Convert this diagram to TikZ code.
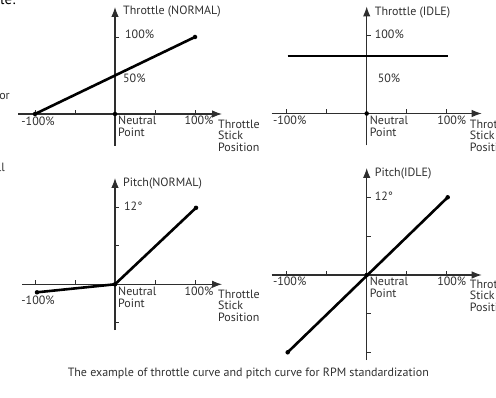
\documentclass[tikz,border=0pt]{standalone}
\usepackage{fontspec}
\setmainfont{PT Sans}
\usepackage{xcolor}
\usetikzlibrary{arrows.meta,positioning}
\definecolor{axisgray}{HTML}{2E2E2E}
\definecolor{labelgray}{HTML}{303030}

\begin{document}
\begin{tikzpicture}[x=1pt,y=1pt,font=\fontsize{12}{13}\selectfont]
        \tikzstyle{axis} = [draw=axisgray, line width=1.1pt, -{Latex[length=10pt,width=7.5pt]}]
        \tikzstyle{tick} = [draw=axisgray, line width=0.9pt]
        \tikzstyle{curve} = [draw=black, line width=2.6pt]
        \tikzstyle{dot} = [circle, fill=black, inner sep=0pt, minimum size=4.5pt]
        \tikzstyle{lbl} = [text=labelgray, inner sep=0pt, anchor=base west]
        \tikzstyle{mid} = [text=labelgray, inner sep=0pt, anchor=base]
        \useasboundingbox (0,0) rectangle (496,397);

        \node[lbl, text=black, font=\fontsize{15}{15}\selectfont] (frag1) at (0,392) {le:};
        \node[mid, anchor=base east] (frag2) at (10,297) {or};
        \node[mid, anchor=base east] (frag3) at (5,225) {ll};

        \begin{scope}[shift={(115,283)}]
        \coordinate (o1) at (0,0);
        \draw[axis] (0,-32) -- (0,107);
        \draw[axis] (-97,0) -- (107,0);
        \foreach \x in {-80,-40,40,80} \draw[tick] (\x,0) -- (\x,4);
        \draw[tick] (0,77) -- (4,77);
        \node[dot] (a1) at (-80,0) {};
        \node[dot] (b1) at (80,77) {};
        \node[dot] at (o1) {};
        \draw[curve] (a1.center) -- (b1.center);
        \node[lbl] (t1) at (8,99) {Throttle (NORMAL)};
        \node[lbl] (h1) at (10,75) {100\%};
        \node[lbl] (f1) at (8,31) {50\%};
        \node[mid] (m1) at (-77,-11.5) {-100\%};
        \node[lbl] (n1) at (3,-11) {Neutral};
        \node[lbl] (p1) at ([yshift=-12pt]n1.base west) {Point};
        \node[mid] (e1) at (84,-11) {100\%};
        \node[lbl] (s1) at (103,-14.5) {Throttle};
        \node[lbl] (s1b) at ([yshift=-11.5pt]s1.base west) {Stick};
        \node[lbl] (s1c) at ([yshift=-11.5pt]s1b.base west) {Position};
        \end{scope}

        \begin{scope}[shift={(366.7,283.5)}]
        \coordinate (o2) at (0,0);
        \draw[axis] (0,-32) -- (0,107);
        \draw[axis] (-95,0) -- (115,0);
        \foreach \x in {-80,-40,40,80} \draw[tick] (\x,0) -- (\x,4);
        \draw[tick] (0,78) -- (4,78);
        \coordinate (a2) at (-79,57.5);
        \coordinate (b2) at (81,57.5);
        \node[dot] at (o2) {};
        \draw[curve] (a2) -- (b2);
        \node[lbl] (t2) at (8,98) {Throttle (IDLE)};
        \node[lbl] (h2) at (8,75) {100\%};
        \node[lbl] (f2) at (11,31) {50\%};
        \node[mid] (m2) at (-77,-11) {-100\%};
        \node[lbl] (n2) at (3,-11) {Neutral};
        \node[lbl] (p2) at ([yshift=-12pt]n2.base west) {Point};
        \node[mid] (e2) at (85,-11) {100\%};
        \node[lbl] (s2) at (103,-15) {Throttle};
        \node[lbl] (s2b) at ([yshift=-11.5pt]s2.base west) {Stick};
        \node[lbl] (s2c) at ([yshift=-11.5pt]s2b.base west) {Position};
        \end{scope}

        \begin{scope}[shift={(115,112.7)}]
        \coordinate (o3) at (0,0);
        \draw[axis] (0,-45.7) -- (0,106.3);
        \draw[axis] (-93,0) -- (107,0);
        \foreach \x in {-80,-40,40,80} \draw[tick] (\x,0) -- (\x,4);
        \foreach \y in {77,38.5,-38.5} \draw[tick] (0,\y) -- (4,\y);
        \node[dot] (a3) at (-78,-8) {};
        \node[dot] (b3) at (81,76.5) {};
        \node[dot] at (o3) {};
        \draw[curve] (a3.center) -- (o3) -- (b3.center);
        \node[lbl] (t3) at (8,98) {Pitch(NORMAL)};
        \node[lbl] (h3) at (9,74) {12°};
        \node[mid] (m3) at (-77,-20) {-100\%};
        \node[lbl] (n3) at (3,-11) {Neutral};
        \node[lbl] (p3) at ([yshift=-12pt]n3.base west) {Point};
        \node[mid] (e3) at (84,-11) {100\%};
        \node[lbl] (s3) at (103,-14) {Throttle};
        \node[lbl] (s3b) at ([yshift=-11.5pt]s3.base west) {Stick};
        \node[lbl] (s3c) at ([yshift=-11.5pt]s3b.base west) {Position};
        \end{scope}

        \begin{scope}[shift={(366.7,122)}]
        \coordinate (o4) at (0,0);
        \draw[axis] (0,-85) -- (0,107);
        \draw[axis] (-95,0) -- (115,0);
        \foreach \x in {-80,-40,40,80} \draw[tick] (\x,0) -- (\x,4);
        \foreach \y in {77.7,39,-38.3,-77.3} \draw[tick] (0,\y) -- (4,\y);
        \node[dot] (a4) at (-79,-77.3) {};
        \node[dot] (b4) at (81,77.7) {};
        \node[dot] at (o4) {};
        \draw[curve] (a4.center) -- (b4.center);
        \node[lbl] (t4) at (8,98.5) {Pitch(IDLE)};
        \node[lbl] (h4) at (8,74.5) {12°};
        \node[mid] (m4) at (-77,-11) {-100\%};
        \node[lbl] (n4) at (3,-10.5) {Neutral};
        \node[lbl] (p4) at ([yshift=-12pt]n4.base west) {Point};
        \node[mid] (e4) at (85,-11) {100\%};
        \node[lbl] (s4) at (103,-13.5) {Throttle};
        \node[lbl] (s4b) at ([yshift=-11.5pt]s4.base west) {Stick};
        \node[lbl] (s4c) at ([yshift=-11.5pt]s4b.base west) {Position};
        \end{scope}

        \node[mid] (cap) at (248.3,21) {The example of throttle curve and pitch curve for RPM standardization};
\end{tikzpicture}
\end{document}
